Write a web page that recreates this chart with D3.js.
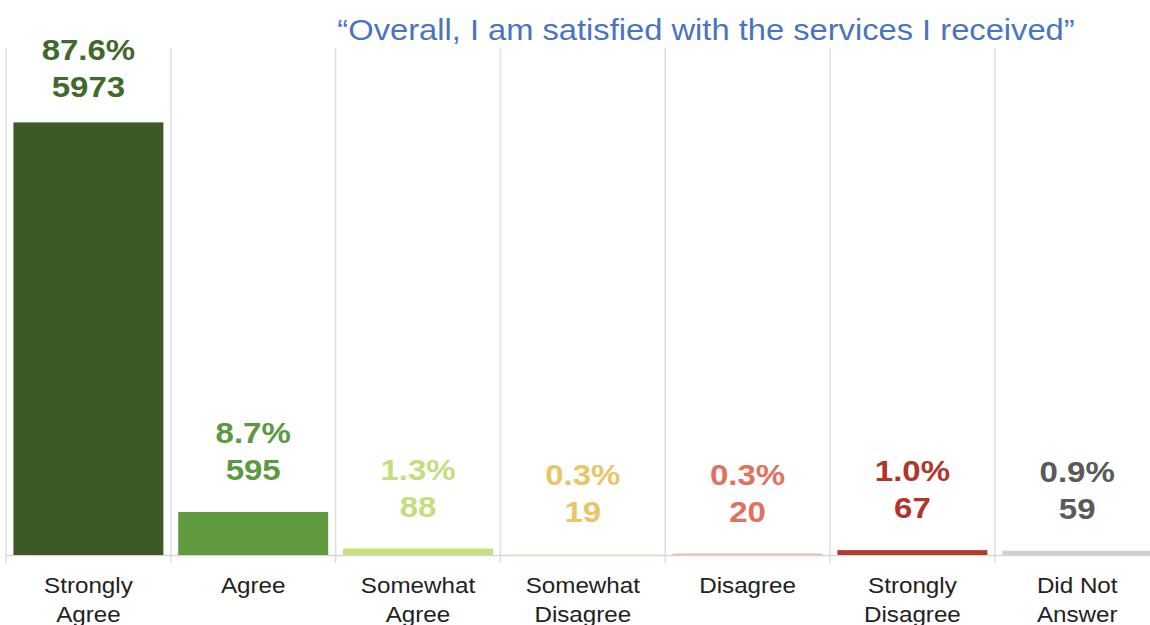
<!DOCTYPE html>
<html>
<head>
<meta charset="utf-8">
<script src="https://cdn.jsdelivr.net/npm/d3@7"></script>
<style>
  html, body { margin: 0; padding: 0; background: #fff; }
  svg { display: block; font-family: "Liberation Sans", Arial, sans-serif; }
</style>
</head>
<body>
<svg id="chart" width="1150" height="625"></svg>
<script>
// Survey responses: "Overall, I am satisfied with the services I received"
const categories = [
  ["Strongly", "Agree"],
  ["Agree"],
  ["Somewhat", "Agree"],
  ["Somewhat", "Disagree"],
  ["Disagree"],
  ["Strongly", "Disagree"],
  ["Did Not", "Answer"]
];
const counts   = [5973, 595, 88, 19, 20, 67, 59];
const percents = ["87.6%", "8.7%", "1.3%", "0.3%", "0.3%", "1.0%", "0.9%"];
const barColors   = ["#3d5a24", "#5f9b3e", "#c6e07a", "#f8eed0", "#f2b8ae", "#b03a2e", "#d0d0d0"];
const labelColors = ["#3f6a2c", "#5b9a41", "#c4de7e", "#e8c668", "#e2705f", "#b0362b", "#5a5a5a"];
const titleText = "\u201COverall, I am satisfied with the services I received\u201D";

const svg = d3.select("#chart");
const keys = categories.map(c => c.join(" "));
const stretch = 1.1; // horizontal widening applied to all text

const left = 6, step = 164.8;
const x = d3.scaleBand()
  .domain(keys)
  .range([left, left + step * keys.length])
  .paddingInner(0.09)
  .paddingOuter(0.045);

const y = d3.scaleLinear().domain([0, 7000]).range([555, 48]);

// vertical separators between categories
const gridX = d3.range(keys.length + 1).map(i => left + i * x.step());
svg.append("g").selectAll("line")
  .data(gridX)
  .join("line")
  .attr("x1", d => d).attr("x2", d => d)
  .attr("y1", y(7000)).attr("y2", y(0) + 8)
  .attr("stroke", "#dedede").attr("stroke-width", 1.5);

// baseline
svg.append("line")
  .attr("x1", left).attr("x2", 1150)
  .attr("y1", y(0) + 0.5).attr("y2", y(0) + 0.5)
  .attr("stroke", "#d6d6d6").attr("stroke-width", 1.5);

// bars
svg.append("g").selectAll("rect")
  .data(counts)
  .join("rect")
  .attr("x", (d, i) => x(keys[i]))
  .attr("width", x.bandwidth())
  .attr("y", d => y(d))
  .attr("height", d => y(0) - y(d))
  .attr("fill", (d, i) => barColors[i]);

// helper for horizontally widened text
function stretchedText(g, tx, ty, sx = stretch) {
  return g.append("text")
    .attr("transform", `translate(${tx},${ty}) scale(${sx},1)`)
    .attr("text-anchor", "middle");
}

// value labels: percentage and count above each bar (kept below the title)
counts.forEach((d, i) => {
  const cx = x(keys[i]) + x.bandwidth() / 2;
  const base = Math.max(y(d) - 32, 97);
  stretchedText(svg, cx, base - 37)
    .attr("font-size", 30).attr("font-weight", "bold")
    .attr("fill", labelColors[i]).text(percents[i]);
  stretchedText(svg, cx, base)
    .attr("font-size", 30).attr("font-weight", "bold")
    .attr("fill", labelColors[i]).text(d3.format("d")(d));
});

// category labels
categories.forEach((lines, i) => {
  const cx = x(keys[i]) + x.bandwidth() / 2;
  lines.forEach((t, j) => {
    stretchedText(svg, cx, 593 + j * 29)
      .attr("font-size", 22).attr("fill", "#222").text(t);
  });
});

// title
stretchedText(svg, 706, 40, 1.09)
  .attr("font-size", 30).attr("fill", "#4a74c0").text(titleText);
</script>
</body>
</html>
